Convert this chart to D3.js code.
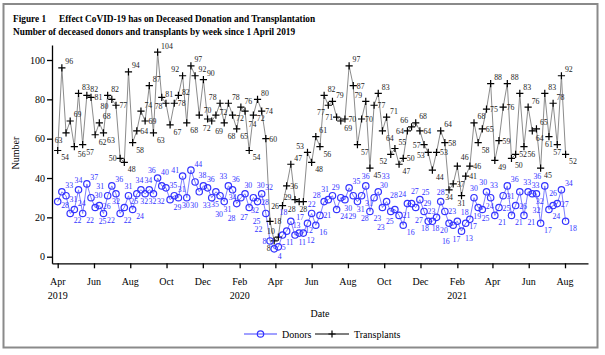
<!DOCTYPE html>
<html><head><meta charset="utf-8">
<script src="https://cdn.jsdelivr.net/npm/d3@7"></script>
<style>
body{margin:0;background:#fff;}
svg{display:block;font-family:"Liberation Serif","Times New Roman",serif;}
</style>
</head><body>
<svg id="c" width="605" height="355"></svg>
<script>
// ---- data ----
const firstWeek = "2019-04-01";
const donors = [28,33,31,22,24,34,22,37,30,25, 26,22,31,36,32,22,25,31,24,32,
  34,32,34,32,40,36,35,29,31,30, 41,30,44,38,33,36,35,30,33,31,
  28,36,34,27,30,32,25,30,28,32, 22,8,4,5,11,13,18,11,12,12,
  17,22,16,21,28,29,31,24,30,29, 35,31,28,31,36,23,30,33,25,28,
  23,24,21,16,27,27,25,29,23,18, 18,20,28,23,17,16,18,13,17,19,
  30,25,24,33,30,21,25,31,36,21, 26,33,21,33,32,32,17,36,24,26,
  27,34,18];
const transplants = [54,96,63,69,56,83,57,82,81,62, 68,63,82,80,77,50,48,94,58,64,
  74,69,87,63,104,81,78,67,78,82, 92,68,97,92,72,90,70,69,72,78,
  68,78,72,65,76,74,54,72,80,74, 60,18,8,10,26,36,47,29,28,28,
  53,48,61,56,82,77,79,71,69,70, 97,87,57,70,79,45,77,83,64,71,
  52,55,47,50,64,66,68,64,57,53, 44,53,64,58,34,37,46,31,41,46,
  68,58,65,75,88,49,59,76,88,50, 52,83,56,76,64,65,45,83,61,78,
  57,92,52];
const yTicks = [0,20,40,60,80,100];
const monthTicks = ["2019-04-01","2019-06-01","2019-08-01","2019-10-01","2019-12-01",
  "2020-02-01","2020-04-01","2020-06-01","2020-08-01","2020-10-01","2020-12-01",
  "2021-02-01","2021-04-01","2021-06-01","2021-08-01"];
const monthLabels = ["Apr","Jun","Aug","Oct","Dec","Feb","Apr","Jun","Aug","Oct","Dec","Feb","Apr","Jun","Aug"];
const yearLabels = ["2019","","","","","2020","","","","","","2021","","",""];
const titleFig = "Figure 1";
const titleMain = "Effect CoVID-19 has on Deceased Donation and Transplantation";
const subtitle = "Number of deceased donors and transplants by week since 1 April 2019";
const seriesNames = ["Donors","Transplants"];

// ---- setup ----
const svg = d3.select("#c");
const parse = d3.utcParse("%Y-%m-%d");
const t0 = parse(firstWeek);
const weeks = donors.map((_, i) => d3.utcDay.offset(t0, 7 * i));

const x = d3.scaleUtc().domain([parse("2019-04-01"), parse("2021-08-01")]).range([57.7, 565]);
const y = d3.scaleLinear().domain([0, 100]).range([256.7, 60]);
const xAx = x.copy().domain([x.invert(52), x.invert(588)]).range([52, 588]);
const yAx = y.copy().domain([y.invert(263.3), y.invert(45)]).range([263.3, 45]);

const BLUE = "#3333ff", BLUE_LINE = "#8080ff", GRAY_LINE = "#8c8c8c", DARK = "#222";

// frame
svg.append("rect").attr("x", 3.5).attr("y", 4).attr("width", 594).attr("height", 343.5)
  .attr("fill", "none").attr("stroke", "#8a8a8a").attr("stroke-width", 2);

// titles
const TF = 9.3;
svg.append("text").attr("x", 13).attr("y", 21.5).attr("font-weight", "bold").attr("font-size", TF).text(titleFig);
svg.append("text").attr("x", 59).attr("y", 21.5).attr("font-weight", "bold").attr("font-size", TF).text(titleMain);
svg.append("text").attr("x", 13).attr("y", 34.5).attr("font-weight", "bold").attr("font-size", TF).text(subtitle);

// axes
const gx = svg.append("g").attr("transform", "translate(0,263.3)")
  .call(d3.axisBottom(xAx).tickValues(monthTicks.map(parse)).tickSize(5).tickSizeOuter(0).tickFormat(""));
gx.selectAll("path,line").attr("stroke", "#000").attr("stroke-width", 1.3);
monthTicks.forEach((m, i) => {
  const xx = x(parse(m));
  svg.append("text").attr("x", xx).attr("y", 285).attr("text-anchor", "middle").attr("font-size", 10).text(monthLabels[i]);
  if (yearLabels[i]) svg.append("text").attr("x", xx).attr("y", 298.5).attr("text-anchor", "middle").attr("font-size", 10).text(yearLabels[i]);
});
const gy = svg.append("g").attr("transform", "translate(52,0)")
  .call(d3.axisLeft(yAx).tickValues(yTicks).tickSize(5).tickSizeOuter(0).tickPadding(2));
gy.selectAll("path,line").attr("stroke", "#000").attr("stroke-width", 1.3);
gy.selectAll("text").attr("font-size", 10).attr("font-family", "Liberation Serif, serif").attr("fill", "#000");

svg.append("text").attr("x", 320).attr("y", 317).attr("text-anchor", "middle").attr("font-size", 10).text("Date");
svg.append("text").attr("transform", "translate(19,153) rotate(-90)").attr("text-anchor", "middle").attr("font-size", 10).text("Number");

// lines
const line = d3.line().x((d, i) => x(weeks[i])).y(d => y(d));
svg.append("path").datum(transplants).attr("d", line).attr("fill", "none").attr("stroke", GRAY_LINE).attr("stroke-width", 1);
svg.append("path").datum(donors).attr("d", line).attr("fill", "none").attr("stroke", BLUE_LINE).attr("stroke-width", 1);

// markers
const cross = (g, cx, cy, s, col) => g.append("path")
  .attr("d", `M${cx - s},${cy}H${cx + s}M${cx},${cy - s}V${cy + s}`).attr("stroke", col).attr("stroke-width", 1.2).attr("fill", "none");
const gm = svg.append("g");
transplants.forEach((v, i) => cross(gm, x(weeks[i]), y(v), 3.6, "#000"));
donors.forEach((v, i) => gm.append("circle").attr("cx", x(weeks[i])).attr("cy", y(v)).attr("r", 3.2)
  .attr("fill", "none").attr("stroke", BLUE).attr("stroke-width", 1.2));

// labels with cost-based collision avoidance
const FS = 7.8;
const placed = [];
const obstacles = [];
transplants.forEach((v, i) => obstacles.push([x(weeks[i]) - 3.2, y(v) - 3.2, x(weeks[i]) + 3.2, y(v) + 3.2]));
donors.forEach((v, i) => obstacles.push([x(weeks[i]) - 3.2, y(v) - 3.2, x(weeks[i]) + 3.2, y(v) + 3.2]));
const area = (a, b) => Math.max(0, Math.min(a[2], b[2]) - Math.max(a[0], b[0])) * Math.max(0, Math.min(a[3], b[3]) - Math.max(a[1], b[1]));
function placeLabels(vals, color) {
  const g = svg.append("g").attr("fill", color).attr("font-size", FS);
  vals.forEach((v, i) => {
    const px = x(weeks[i]), py = y(v);
    const s = String(v), w = s.length * FS * 0.5;
    const prev = i > 0 ? vals[i - 1] : v, next = i < vals.length - 1 ? vals[i + 1] : v;
    const peak = v >= prev && v >= next, trough = v <= prev && v <= next;
    const cands = [];
    const dxs = [[3.5, 0], [-3.5 - w, 0.4], [-w / 2, 0.8], [6, 1.5], [-6 - w, 1.8]];
    const dysUp = [-3.5, -6.5, -9.5, -12.5];
    const dysMid = [3, 0, 6];
    const dysDn = [10, 13, 16, 19];
    const order = peak ? [dysUp, dysMid, dysDn] : trough ? [dysDn, dysMid, dysUp] : [dysMid, dysUp, dysDn];
    order.forEach((grp, gi) => grp.forEach((dy, k) => dxs.forEach(([dx, p]) => {
      if (Math.abs(dx + w / 2) < 1 && grp === dysMid) return; // centered would sit on marker
      cands.push([dx, dy, gi * 1.5 + k * 0.8 + p]);
    })));
    let best = null, bestCost = Infinity;
    cands.forEach(([dx, dy, pref]) => {
      const box = [px + dx, py + dy - 0.8 * FS, px + dx + w, py + dy + 0.22 * FS];
      let c = pref;
      placed.forEach(b => c += 40 * area(b, box));
      obstacles.forEach(b => c += 3 * area(b, box));
      if (box[0] < 54 || box[3] > 262 || box[1] < 40) c += 500;
      if (c < bestCost) { bestCost = c; best = [dx, dy, box]; }
    });
    placed.push(best[2]);
    g.append("text").attr("x", px + best[0]).attr("y", py + best[1]).text(s);
  });
}
placeLabels(transplants, DARK);
placeLabels(donors, BLUE);

// legend
const ly = 334;
svg.append("line").attr("x1", 244).attr("x2", 277).attr("y1", ly).attr("y2", ly).attr("stroke", BLUE_LINE).attr("stroke-width", 1.3);
svg.append("circle").attr("cx", 260.5).attr("cy", ly).attr("r", 3.2).attr("fill", "none").attr("stroke", BLUE).attr("stroke-width", 1.2);
svg.append("text").attr("x", 282).attr("y", ly + 3.5).attr("font-size", 10).text(seriesNames[0]);
svg.append("line").attr("x1", 315).attr("x2", 349).attr("y1", ly).attr("y2", ly).attr("stroke", "#555").attr("stroke-width", 1.3);
cross(svg, 332, ly, 3.6, "#000");
svg.append("text").attr("x", 354).attr("y", ly + 3.5).attr("font-size", 10).text(seriesNames[1]);
</script>
</body></html>
